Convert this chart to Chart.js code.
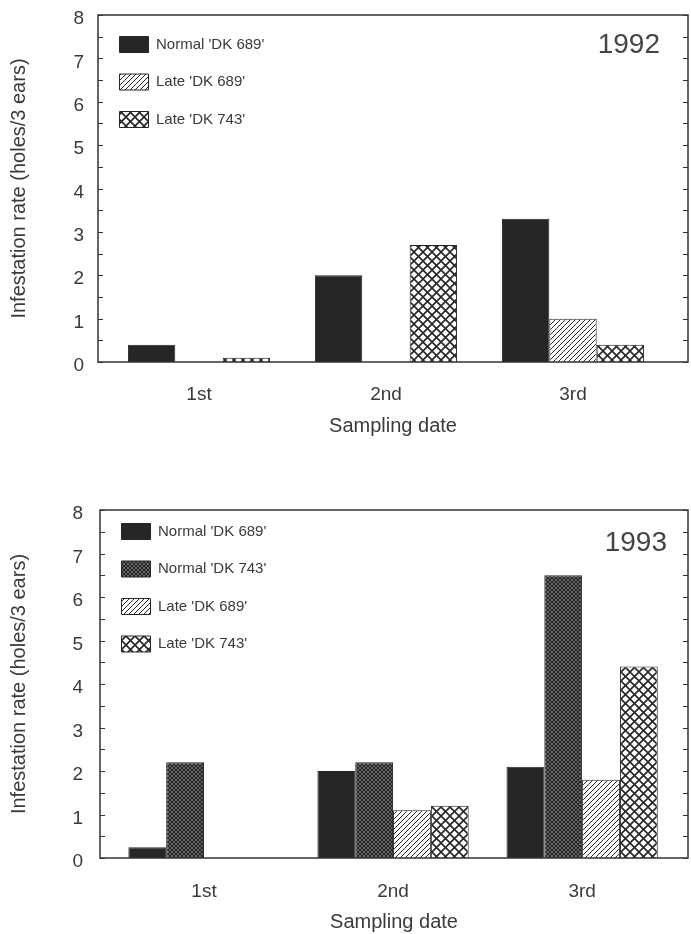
<!DOCTYPE html>
<html>
<head>
<meta charset="utf-8">
<script src="https://cdn.jsdelivr.net/npm/chart.js@4.4.1/dist/chart.umd.min.js"></script>
<style>
  html, body { margin: 0; padding: 0; background: #fff; }
  #wrap { position: relative; width: 691px; height: 934px; }
  .box { position: absolute; left: 0; width: 691px; }
</style>
</head>
<body>
<div id="wrap">
  <div class="box" style="top:0;height:438px"><canvas id="chart1992" width="691" height="438"></canvas></div>
  <div class="box" style="top:438px;height:496px"><canvas id="chart1993" width="691" height="496"></canvas></div>
</div>
<script>
// Sampling dates (x categories)
const categories = ['1st', '2nd', '3rd'];
const yTicks = [0, 1, 2, 3, 4, 5, 6, 7, 8];

// 1992 infestation rate (holes/3 ears)
const normal689_1992 = [0.4, 2.0, 3.3];
const late689_1992 = [0, 0, 1.0];
const late743_1992 = [0.1, 2.7, 0.4];

// 1993 infestation rate (holes/3 ears)
const normal689_1993 = [0.25, 2.0, 2.1];
const normal743_1993 = [2.2, 2.2, 6.5];
const late689_1993 = [0, 1.1, 1.8];
const late743_1993 = [0, 1.2, 4.4];

const INK = '#262626';
const TEXT = '#3a3a3a';

Chart.defaults.font.family = "'Liberation Sans', Arial, sans-serif";
Chart.defaults.color = TEXT;

// Fill patterns like the printed figure
function makePattern(kind) {
    const c = document.createElement('canvas');
    const ctx = c.getContext('2d');
    let n = 5;
    if (kind === 'cross') n = 9;
    if (kind === 'fine') n = 4;
    c.width = c.height = n;
    ctx.fillStyle = '#fff';
    ctx.fillRect(0, 0, n, n);
    ctx.strokeStyle = INK;
    if (kind === 'hatch') {
        ctx.lineWidth = 1;
        ctx.beginPath();
        ctx.moveTo(0, n); ctx.lineTo(n, 0);
        ctx.moveTo(-1, 1); ctx.lineTo(1, -1);
        ctx.moveTo(n - 1, n + 1); ctx.lineTo(n + 1, n - 1);
        ctx.stroke();
    } else {
        ctx.lineWidth = kind === 'cross' ? 1.6 : 1.8;
        ctx.beginPath();
        ctx.moveTo(0, n); ctx.lineTo(n, 0);
        ctx.moveTo(0, 0); ctx.lineTo(n, n);
        ctx.stroke();
    }
    return ctx.createPattern(c, 'repeat');
}

const fills = {
    solid: INK,
    hatch: makePattern('hatch'),
    cross: makePattern('cross'),
    fine: makePattern('fine')
};

function series(label, values, fill) {
    return {
        label: label,
        data: categories.map((c, i) => ({ x: i + 1, y: values[i] })),
        backgroundColor: fills[fill],
        borderColor: INK,
        borderWidth: 1
    };
}

// Box frame, inward ticks every 0.5, year label
const framePlugin = {
    id: 'frame',
    afterLayout(chart, args, opts) {
        const lg = chart.legend, a = chart.chartArea;
        const h = a.bottom - a.top;
        lg.left = a.left;
        lg.right = a.right;
        lg.top = a.top + opts.legendDy;
        lg.bottom = lg.top + h;
    },
    afterDraw(chart, args, opts) {
        const { ctx, chartArea: a, scales: { y } } = chart;
        ctx.save();
        ctx.strokeStyle = '#333';
        ctx.lineWidth = 1.5;
        ctx.strokeRect(a.left, a.top, a.right - a.left, a.bottom - a.top);
        ctx.lineWidth = 1;
        ctx.beginPath();
        for (let v = y.min; v <= y.max; v += 0.5) {
            const py = Math.round(y.getPixelForValue(v)) + 0.5;
            ctx.moveTo(a.left, py); ctx.lineTo(a.left + 5, py);
            ctx.moveTo(a.right, py); ctx.lineTo(a.right - 5, py);
        }
        ctx.stroke();
        ctx.fillStyle = '#444';
        ctx.font = "28px 'Liberation Sans', Arial, sans-serif";
        ctx.textAlign = 'right';
        ctx.textBaseline = 'middle';
        ctx.fillText(opts.year, a.right - opts.yearDx, a.top + opts.yearDy);
        ctx.restore();
    }
};

function buildChart(id, datasets, p) {
    return new Chart(document.getElementById(id), {
        type: 'bar',
        data: { datasets: datasets },
        plugins: [framePlugin],
        options: {
            responsive: false,
            animation: false,
            layout: { padding: { top: p.top, right: 691 - p.right, left: 0, bottom: 0 } },
            datasets: { bar: { categoryPercentage: p.catPct, barPercentage: 1 } },
            plugins: {
                tooltip: { enabled: false },
                legend: {
                    position: 'chartArea',
                    align: 'start',
                    labels: {
                        boxWidth: 29,
                        boxHeight: 16,
                        padding: 21.5,
                        color: TEXT,
                        font: { size: 15 }
                    }
                },
                frame: { year: p.year, yearDx: p.yearDx, yearDy: p.yearDy, legendDy: p.legendDy }
            },
            scales: {
                x: {
                    type: 'linear',
                    min: p.xMin,
                    max: p.xMax,
                    offset: false,
                    grid: { display: false },
                    border: { display: false },
                    afterBuildTicks: s => { s.ticks = categories.map((c, i) => ({ value: i + 1 })); },
                    afterFit: s => { s.height = p.xHeight; s.paddingLeft = 0; s.paddingRight = 0; },
                    ticks: {
                        padding: p.xPad,
                        font: { size: 19 },
                        color: TEXT,
                        callback: v => categories[v - 1] || ''
                    },
                    title: {
                        display: true,
                        text: 'Sampling date',
                        color: TEXT,
                        font: { size: 20 },
                        padding: { top: 0, bottom: 0 }
                    }
                },
                y: {
                    min: yTicks[0],
                    max: yTicks[yTicks.length - 1],
                    grid: { display: false, drawTicks: false },
                    border: { display: false },
                    afterFit: s => { s.width = p.left; s.paddingTop = 0; s.paddingBottom = 0; },
                    ticks: {
                        stepSize: 1,
                        padding: p.tickPad,
                        labelOffset: 4,
                        font: { size: 19 },
                        color: TEXT
                    },
                    title: {
                        display: true,
                        text: 'Infestation rate (holes/3 ears)',
                        color: TEXT,
                        font: { size: 20 },
                        padding: { top: 7, bottom: 0 }
                    }
                }
            }
        }
    });
}

buildChart('chart1992', [
    series("Normal 'DK 689'", normal689_1992, 'solid'),
    series("Late 'DK 689'", late689_1992, 'hatch'),
    series("Late 'DK 743'", late743_1992, 'cross')
], {
    top: 15, left: 98, right: 688, xHeight: 76, xPad: 13,
    xMin: 0.46, xMax: 3.615, catPct: 0.76, tickPad: 14,
    year: '1992', yearDx: 28, yearDy: 30, legendDy: 0
});

buildChart('chart1993', [
    series("Normal 'DK 689'", normal689_1993, 'solid'),
    series("Normal 'DK 743'", normal743_1993, 'fine'),
    series("Late 'DK 689'", late689_1993, 'hatch'),
    series("Late 'DK 743'", late743_1993, 'cross')
], {
    top: 72, left: 100, right: 688, xHeight: 76, xPad: 14,
    xMin: 0.45, xMax: 3.56, catPct: 0.80, tickPad: 17,
    year: '1993', yearDx: 21, yearDy: 33, legendDy: -8
});
</script>
</body>
</html>
